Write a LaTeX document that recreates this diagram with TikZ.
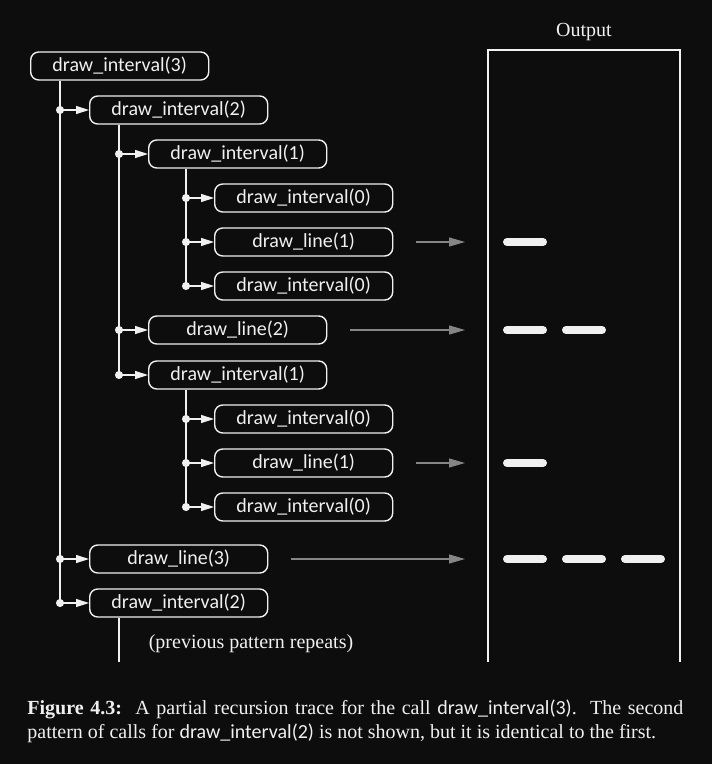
\documentclass[tikz,border=0pt]{standalone}
\usepackage{fontspec}
\setmainfont{Liberation Serif}
\newfontfamily\codefont{Carlito}
\usetikzlibrary{arrows.meta}
\definecolor{bg}{HTML}{0D0D0D}
\definecolor{fg}{HTML}{F0F0F0}
\definecolor{feedgray}{HTML}{858585}

\begin{document}
\begin{tikzpicture}[x=0.5pt,y=-0.5pt]

\tikzset{call/.style = {shape=rectangle, rounded corners=4pt, draw=fg, line width=0.7pt, text=fg,
  minimum width=89pt, minimum height=14pt, inner sep=0pt, anchor=west, font=\codefont}}
\tikzset{edge/.style = {{Circle[length=4pt]}-{Triangle[length=6.5pt,width=4pt]}, shorten <=-2pt, draw=fg, line width=0.7pt}}
\tikzset{spine/.style = {draw=fg, line width=0.7pt}}
\tikzset{feed/.style = {-{Triangle[length=8pt,width=4.5pt]}, draw=feedgray, fill=feedgray, line width=0.55pt, shorten <=11.5pt, shorten >=11.5pt}}
\tikzset{bar/.style = {draw=fg, line width=4pt, line cap=round}}

\useasboundingbox[fill=bg] (0,0) rectangle (712,764);

%calls
\node[call] (i3)  at (30,66)  {draw\_interval(3)};
\node[call] (i2)  at (89,110) {draw\_interval(2)};
\node[call] (i1a) at (148,154) {draw\_interval(1)};
\node[call] (i0a) at (214,198) {draw\_interval(0)};
\node[call] (l1a) at (214,242) {draw\_line(1)};
\node[call] (i0b) at (214,286) {draw\_interval(0)};
\node[call] (l2)  at (148,330) {draw\_line(2)};
\node[call] (i1b) at (148,375) {draw\_interval(1)};
\node[call] (i0c) at (214,419) {draw\_interval(0)};
\node[call] (l1b) at (214,463) {draw\_line(1)};
\node[call] (i0d) at (214,507) {draw\_interval(0)};
\node[call] (l3)  at (89,559) {draw\_line(3)};
\node[call] (i2b) at (89,603) {draw\_interval(2)};
\node[text=fg] (rep) at (251,644) {(previous pattern repeats)};

%output
\node[text=fg] (out) at (584,32) {Output};
\coordinate (ob) at (488,50);
\coordinate (oe) at (680,662);
\draw[draw=fg!85, line width=0.6pt] (ob |- oe) -- (ob) -- (oe |- ob) -- (oe);

%spines
\coordinate (s3)  at ([xshift=15pt]i3.south west);
\coordinate (s2)  at ([xshift=15pt]i2.south west);
\coordinate (s1a) at ([xshift=19pt]i1a.south west);
\coordinate (s1b) at ([xshift=19pt]i1b.south west);
\coordinate (s2b) at ([xshift=15pt]i2b.south west);
\draw[spine] (s3) -- (s3 |- i2b.west);
\draw[spine] (s2) -- (s2 |- i1b.west);
\draw[spine] (s1a) -- (s1a |- i0b.west);
\draw[spine] (s1b) -- (s1b |- i0d.west);
\draw[spine] (s2b) -- (s2b |- oe);

%edges
\foreach \a/\b in {s3/i2, s3/l3, s3/i2b, s2/i1a, s2/l2, s2/i1b,
  s1a/i0a, s1a/l1a, s1a/i0b, s1b/i0c, s1b/l1b, s1b/i0d}
  \draw[edge] (\a |- \b.west) -- (\b.west);

%lines printed
\foreach \l in {l1a, l2, l1b, l3}
  \draw[feed] (\l.east) -- (\l.east -| ob);
\foreach \l/\n in {l1a/1, l2/2, l1b/1, l3/3}
  \foreach \k in {1,...,\n}
    \draw[bar] ([xshift={(\k-1)*29.5pt+9.5pt}]\l.center -| ob) -- ([xshift={(\k-1)*29.5pt+27.5pt}]\l.center -| ob);

%caption
\node[text=fg, anchor=north west, text width=328pt, align=justify, inner sep=0pt] (cap) at (27,699)
  {\textbf{Figure 4.3:}\ \ A partial recursion trace for the call {\codefont draw\_interval(3)}.\ \ The second
   pattern of calls for {\codefont draw\_interval(2)} is not shown, but it is identical to the first.};

\end{tikzpicture}
\end{document}
